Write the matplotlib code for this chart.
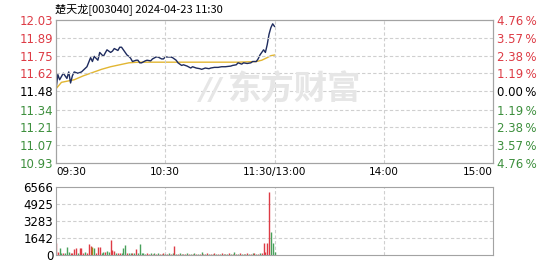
import numpy as np
import matplotlib
matplotlib.use("Agg")
from matplotlib import pyplot as plt

plt.rcParams['font.family'] = ['DejaVu Sans']

#-------------------------------------------------------------------------------#
# data (minutes after 09:30, morning session only)

prev_close = 11.48
title_text = "楚天龙[003040] 2024-04-23 11:30"

price_ticks = [12.03, 11.89, 11.75, 11.62, 11.48, 11.34, 11.21, 11.07, 10.93]
pct_labels = ["4.76", "3.57", "2.38", "1.19", "0.00", "1.19", "2.38", "3.57", "4.76"]
time_labels = ["09:30", "10:30", "11:30/13:00", "14:00", "15:00"]
vol_ticks = [0, 1642, 3283, 4925, 6566]

price_min = [0, 1, 2, 4, 5, 6, 7, 8, 9, 10, 12, 14, 17, 19, 20, 21, 23, 24, 26, 28,
             30, 31, 32, 34, 35, 36, 37, 39, 40, 41, 42, 44, 45, 46, 47, 49, 50, 52, 53, 55,
             56, 58, 59, 60, 62, 63, 64, 66, 67, 69, 70, 72, 74, 75, 77, 79, 80, 82, 84, 85,
             87, 89, 91, 93, 96, 97, 99, 100, 102, 103, 105, 107, 108, 110, 111, 112, 113, 114, 115, 116,
             117, 118, 119, 120]
price = [11.49, 11.61, 11.57, 11.62, 11.60, 11.58, 11.63, 11.545, 11.60, 11.63, 11.62, 11.63, 11.67, 11.74, 11.71, 11.75, 11.72, 11.78, 11.75, 11.80,
         11.78, 11.79, 11.81, 11.795, 11.82, 11.82, 11.80, 11.76, 11.75, 11.735, 11.71, 11.72, 11.72, 11.70, 11.70, 11.715, 11.72, 11.715, 11.73, 11.745,
         11.745, 11.73, 11.73, 11.745, 11.745, 11.745, 11.74, 11.72, 11.70, 11.68, 11.685, 11.675, 11.66, 11.67, 11.66, 11.655, 11.65, 11.66, 11.655, 11.66,
         11.665, 11.665, 11.67, 11.67, 11.675, 11.68, 11.685, 11.70, 11.69, 11.70, 11.695, 11.70, 11.71, 11.71, 11.73, 11.76, 11.78, 11.80, 11.78, 11.84,
         11.92, 11.97, 12.00, 11.98]

avg_min = [0, 3, 10, 15, 20, 25, 30, 35, 40, 45, 60, 80, 100, 110, 113, 116, 118, 120]
avg_price = [11.50, 11.55, 11.57, 11.60, 11.625, 11.65, 11.67, 11.685, 11.70, 11.705, 11.705, 11.705, 11.705, 11.71, 11.72, 11.74, 11.755, 11.76]

volume = [1170, 250, 600, 200, 150, 120, 710, 300, 150, 120, 550, 680, 200, 680, 620, 200, 300, 150, 990, 860,
          710, 600, 200, 770, 770, 150, 300, 250, 400, 250, 1450, 450, 400, 150, 200, 120, 150, 650, 920, 150,
          200, 120, 200, 150, 550, 150, 1020, 150, 120, 110, 130, 110, 120, 100, 120, 110, 130, 100, 110, 120,
          100, 110, 120, 100, 130, 830, 110, 100, 120, 110, 100, 110, 120, 100, 110, 100, 120, 110, 100, 110,
          250, 110, 100, 120, 100, 110, 100, 120, 110, 100, 110, 120, 100, 110, 100, 120, 110, 100, 250, 110,
          100, 120, 110, 100, 110, 120, 100, 110, 130, 120, 110, 100, 130, 150, 1150, 300, 1100, 6010, 2150, 1100,
          300]
vol_colors = ("rrggrgggrrrrgrrrgrrryg"
              "rrrgg" "rgg" "rrrgrrggg" "rgg" "rgrgg"
              "gggrrgrgrgrgrgrgrg" "r"
              "grgrgrgrgrgrgr" "g"
              "rgrgrgrgrgrgrgrgr" "g"
              "rgrgrgrgrgrgrgr" "rrrrggg")

#-------------------------------------------------------------------------------#

red = '#dd3b45'
green = '#3d8f3d'
grid_c = '#cfcfcf'
edge_c = '#a3a3a3'
cmap = {'r': red, 'g': '#47a05a', 'y': '#9a8a1a'}

fig = plt.figure(figsize=(5.49, 2.62), dpi=100)

# watermark
fig.text(0.535, 0.655, "东方财富", family=['Noto Sans CJK SC'], fontsize=24, fontweight='bold',
         color='#e6e6e6', ha='center', va='center', zorder=0)
fig.text(0.385, 0.655, "//", fontsize=22, fontweight='bold', fontstyle='italic',
         color='#e6e6e6', ha='center', va='center', zorder=0)

ax = fig.add_axes([0.102, 0.378, 0.796, 0.546])
ax.patch.set_alpha(0)
ax.plot(avg_min, avg_price, color='#e2b632', lw=1)
ax.plot(price_min, price, color='#1e2b5e', lw=1)
ax.set_xlim(0, 240)
ax.set_ylim(10.93, 12.03)
ax.set_yticks(price_ticks)
ax.set_yticklabels(["%.2f" % p for p in price_ticks], fontsize=8.5)
for lbl, p in zip(ax.get_yticklabels(), price_ticks):
    lbl.set_color(red if p > prev_close + 0.001 else (green if p < prev_close - 0.001 else 'black'))
ax.set_xticks([0, 60, 120, 180, 240])
ax.set_xticklabels(time_labels, fontsize=7.5)
xl = ax.get_xticklabels()
xl[0].set_ha('left')
xl[-1].set_ha('right')
ax.tick_params(length=0, pad=2)
ax.tick_params(axis='x', pad=3)
for y in price_ticks[1:-1]:
    ax.axhline(y, color=grid_c, lw=0.8, ls=(0, (3, 2)))
for x in [60, 120, 180]:
    ax.axvline(x, color=grid_c, lw=0.8, ls=(0, (3, 2)))
for s in ax.spines.values():
    s.set_color(edge_c)

axr = ax.twinx()
axr.set_ylim(10.93, 12.03)
axr.set_yticks(price_ticks)
axr.set_yticklabels([t + "\u2009%" for t in pct_labels], fontsize=8.5)
for lbl, p in zip(axr.get_yticklabels(), price_ticks):
    lbl.set_color(red if p > prev_close + 0.001 else (green if p < prev_close - 0.001 else 'black'))
axr.tick_params(length=0, pad=3)
for s in axr.spines.values():
    s.set_color(edge_c)

fig.text(0.1, 0.965, title_text, family=['Noto Sans CJK SC', 'DejaVu Sans'], fontsize=8,
         ha='left', va='center')

#-------------------------------------------------------------------------------#
axv = fig.add_axes([0.102, 0.028, 0.796, 0.26])
vx = np.arange(len(volume))
axv.vlines(vx, 0, volume, colors=[cmap[c] for c in vol_colors[:len(volume)]], lw=1)
axv.set_xlim(0, 240)
axv.set_ylim(0, 6566)
axv.set_yticks(vol_ticks)
axv.set_yticklabels([str(v) for v in vol_ticks], fontsize=8.5)
axv.set_xticks([])
axv.tick_params(length=0, pad=2)
for y in vol_ticks[1:-1]:
    axv.axhline(y, color=grid_c, lw=0.8, ls=(0, (3, 2)), zorder=0)
for x in [60, 120, 180]:
    axv.axvline(x, color=grid_c, lw=0.8, ls=(0, (3, 2)), zorder=0)
for s in axv.spines.values():
    s.set_color(edge_c)

fig.savefig("out.png", dpi=100)
